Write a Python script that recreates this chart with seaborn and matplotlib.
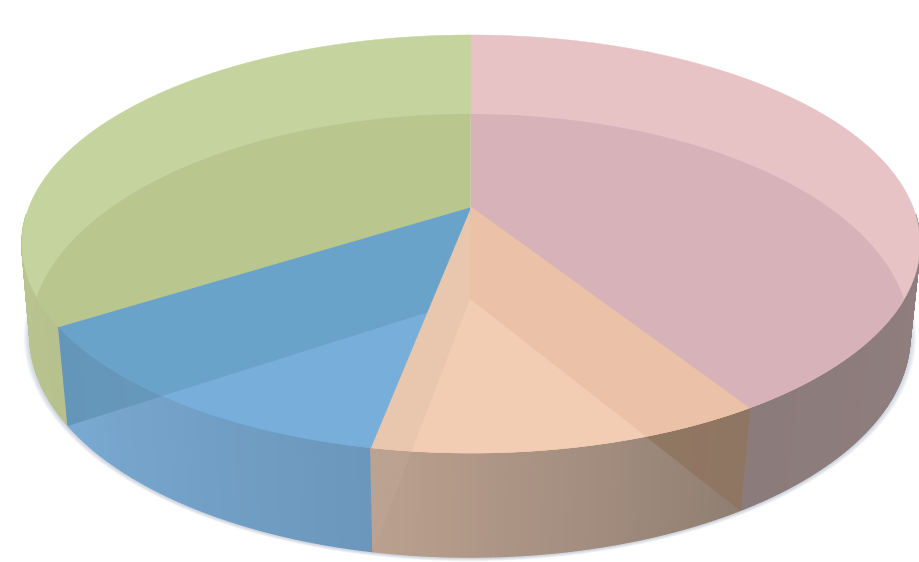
import numpy as np
import matplotlib
matplotlib.use("Agg")
import matplotlib.pyplot as plt
from matplotlib.path import Path
import seaborn as sns

# ---- data (share of each slice, clockwise from 12 o'clock) ----
slices = ["pink", "orange", "blue", "green"]
values = [41, 12, 13, 34]

# ---- colours ----
top_plain = {"pink": "#E8C3C6", "orange": "#F2CDB3", "blue": "#78AEDA", "green": "#C5D39F"}
top_over_floor = {
    ("pink", "pink"): "#D8B2B9",
    ("orange", "pink"): "#EBC2A8",
    ("orange", "orange"): "#F2CDB3",
    ("orange", "blue"): "#E9C6AE",
    ("orange", "green"): "#E9C6AE",
    ("blue", "blue"): "#78AEDA",
    ("blue", "green"): "#6AA3CA",
    ("green", "green"): "#B9C68E",
}
wall_over_floor = {  # colour at start / end of clockwise sweep
    ("pink", "pink"): ("#917F80", "#8C7B7B"),
    ("orange", "pink"): ("#8F7663", "#94795F"),
    ("orange", "orange"): ("#8F7E72", "#BBA08E"),
    ("orange", "blue"): ("#B8A08E", "#BCA290"),
    ("blue", "blue"): ("#6C97BC", "#7AAAD2"),
    ("blue", "green"): ("#6A9BBD", "#6496BA"),
    ("green", "green"): ("#B7C18D", "#B9C48F"),
}
shadow_colour = "#8C9BB4"

sns.set_theme(style="white")
fig, ax = plt.subplots(figsize=(9.19, 5.62), dpi=100)
fig.subplots_adjust(0, 0, 1, 1)
ax.set_xlim(0, 919)
ax.set_ylim(562, 0)
ax.set_aspect("auto")
sns.despine(ax=ax, left=True, bottom=True)
ax.set_axis_off()

# ---- perspective of the two discs (top face and floor) ----
TOP = dict(cx=471, cy=207, a=442, b=202.5, k=0.177)
FLOOR = dict(cx=470, cy=299, a=434, b=215.5, k=0.165)


def project(deg, p):
    t = np.radians(deg)
    u, v = np.sin(t), np.cos(t)
    d = 1 + p["k"] * v
    return np.column_stack([p["cx"] + p["a"] * u / d, p["cy"] - p["b"] * v / d])


def arc(a0, a1, p, n=None):
    n = n or max(2, int(abs(a1 - a0) * 2))
    return project(np.linspace(a0, a1, n), p)


def sector(a0, a1, p):
    apex = np.array([[p["cx"], p["cy"]]])
    return np.vstack([apex, arc(a0, a1, p), apex])


edges = np.concatenate([[0], np.cumsum(values) / np.sum(values) * 360])
span = {s: (edges[i], edges[i + 1]) for i, s in enumerate(slices)}
floor_path = {s: Path(sector(*span[s], FLOOR)) for s in slices}

# ---- soft shadow ----
whole = arc(0, 360, FLOOR, 360)
centre = np.array([FLOOR["cx"], 334])
for grow in np.linspace(1.014, 1.002, 7):
    ax.fill(*(centre + (whole - centre) * grow + [0, 1]).T, color=shadow_colour,
            alpha=0.07, lw=0, zorder=1)

# ---- side walls ----
visible = {"pink": (92, span["pink"][1]), "orange": span["orange"],
           "blue": span["blue"], "green": (span["green"][0], 268)}


def wall(name, a0, a1, colours, clip=None):
    n = max(2, int((a1 - a0) * 2))
    ang = np.linspace(a0, a1, n + 1)
    pal = sns.blend_palette(list(colours), n)
    for i in range(n):
        up = arc(ang[i], ang[i + 1], TOP, 2)
        lo = arc(ang[i], ang[i + 1], FLOOR, 2)[::-1]
        q = ax.fill(*np.vstack([up, lo]).T, facecolor=pal[i], edgecolor=pal[i],
                    lw=1.0, zorder=2 if clip is None else 3)[0]
        if clip is not None:
            q.set_clip_path(clip, ax.transData)


for s in slices:
    wall(s, *visible[s], wall_over_floor[(s, s)])
for (s, f), cols in wall_over_floor.items():
    if s != f:
        wall(s, *visible[s], cols, clip=floor_path[f])

# ---- top faces ----
for s in slices:
    ax.fill(*sector(*span[s], TOP).T, facecolor=top_plain[s], edgecolor=top_plain[s],
            lw=0.3, zorder=4)
for (s, f), col in top_over_floor.items():
    q = ax.fill(*sector(*span[s], TOP).T, facecolor=col, edgecolor=col, lw=0.3, zorder=5)[0]
    q.set_clip_path(floor_path[f], ax.transData)

fig.savefig("out.png", dpi=100, facecolor="white")
